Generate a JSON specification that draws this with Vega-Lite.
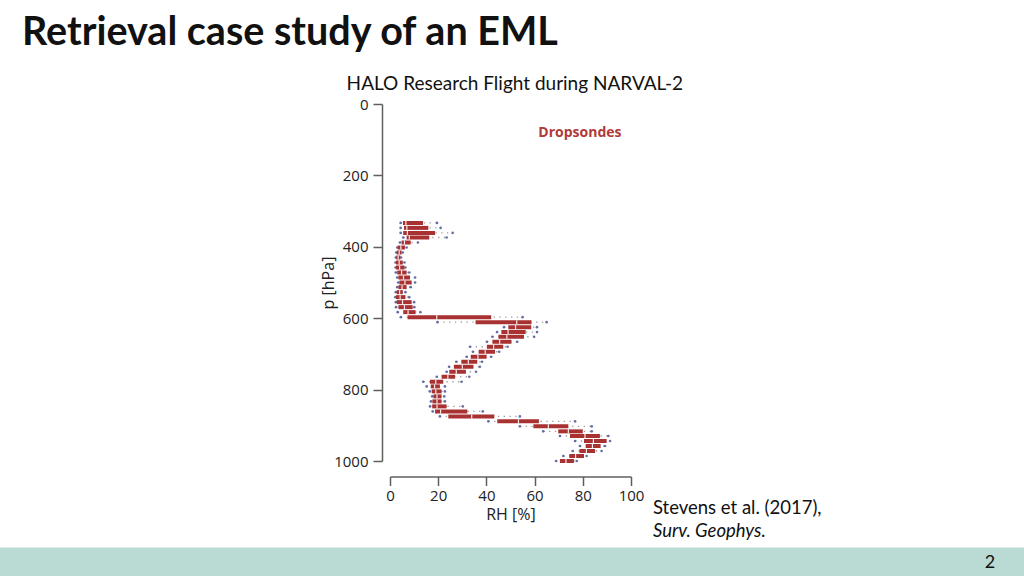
{
  "$schema": "https://vega.github.io/schema/vega-lite/v6.json",
  "autosize": {"type": "none"},
  "width": 241,
  "height": 357,
  "padding": {"left": 390, "top": 104, "right": 393, "bottom": 115},
  "background": "white",
  "config": {
    "view": {"stroke": null},
    "axis": {
      "labelFont": "Open Sans", "labelFontSize": 15, "labelColor": "#222222", "labelFlush": false,
      "titleFont": "Open Sans", "titleFontSize": 16, "titleFontWeight": "normal", "titleColor": "#222222",
      "domainColor": "#5f5f5f", "domainWidth": 1.5, "tickColor": "#5f5f5f", "tickWidth": 1.5, "tickSize": 9,
      "grid": false
    }
  },
  "datasets": {
    "sondes": [
      {"p": 333, "min": 4.4, "q1": 5.4, "med": 6.6, "q3": 13.7, "max": 19.5},
      {"p": 347, "min": 4.4, "q1": 5.8, "med": 7.0, "q3": 15.9, "max": 21.0},
      {"p": 361, "min": 4.4, "q1": 5.5, "med": 7.2, "q3": 18.7, "max": 26.0},
      {"p": 374, "min": 5.5, "q1": 6.9, "med": 8.0, "q3": 16.3, "max": 23.5},
      {"p": 388, "min": 4.1, "q1": 4.8, "med": 6.0, "q3": 8.6, "max": 11.6},
      {"p": 402, "min": 3.0, "q1": 3.2, "med": 4.5, "q3": 6.2, "max": 6.9},
      {"p": 416, "min": 2.6, "q1": 2.8, "med": 3.8, "q3": 4.8, "max": 5.3},
      {"p": 430, "min": 2.4, "q1": 2.6, "med": 3.4, "q3": 4.3, "max": 4.6},
      {"p": 444, "min": 2.3, "q1": 2.5, "med": 3.8, "q3": 5.3, "max": 6.0},
      {"p": 458, "min": 2.3, "q1": 2.5, "med": 4.0, "q3": 6.0, "max": 6.4},
      {"p": 472, "min": 2.4, "q1": 3.0, "med": 4.8, "q3": 6.9, "max": 8.0},
      {"p": 486, "min": 3.0, "q1": 3.5, "med": 5.6, "q3": 8.3, "max": 10.4},
      {"p": 500, "min": 3.4, "q1": 3.9, "med": 6.2, "q3": 9.0, "max": 10.4},
      {"p": 513, "min": 3.0, "q1": 3.5, "med": 5.0, "q3": 6.9, "max": 8.6},
      {"p": 527, "min": 2.4, "q1": 2.8, "med": 4.0, "q3": 5.3, "max": 6.4},
      {"p": 541, "min": 2.2, "q1": 2.5, "med": 4.2, "q3": 6.4, "max": 8.0},
      {"p": 555, "min": 2.4, "q1": 2.8, "med": 5.2, "q3": 9.0, "max": 10.0},
      {"p": 569, "min": 2.5, "q1": 3.5, "med": 6.0, "q3": 9.4, "max": 10.1},
      {"p": 583, "min": 3.2, "q1": 5.5, "med": 7.5, "q3": 10.6, "max": 12.6},
      {"p": 597, "min": 4.5, "q1": 7.3, "med": 19.4, "q3": 42.0, "max": 55.0},
      {"p": 611, "min": 19.7, "q1": 35.5, "med": 52.6, "q3": 58.7, "max": 65.0},
      {"p": 625, "min": 47.3, "q1": 49.1, "med": 52.1, "q3": 58.6, "max": 61.0},
      {"p": 639, "min": 44.4, "q1": 46.2, "med": 49.0, "q3": 56.3, "max": 61.0},
      {"p": 652, "min": 42.5, "q1": 45.0, "med": 48.5, "q3": 55.6, "max": 59.8},
      {"p": 666, "min": 40.2, "q1": 42.5, "med": 45.5, "q3": 50.4, "max": 52.8},
      {"p": 680, "min": 33.2, "q1": 40.2, "med": 43.0, "q3": 47.0, "max": 48.8},
      {"p": 694, "min": 34.4, "q1": 36.8, "med": 39.5, "q3": 43.6, "max": 45.3},
      {"p": 708, "min": 31.8, "q1": 33.5, "med": 36.5, "q3": 40.1, "max": 42.0},
      {"p": 722, "min": 27.5, "q1": 29.6, "med": 32.5, "q3": 36.2, "max": 38.2},
      {"p": 736, "min": 24.5, "q1": 26.5, "med": 30.0, "q3": 34.6, "max": 37.3},
      {"p": 750, "min": 23.5, "q1": 24.6, "med": 27.5, "q3": 31.5, "max": 35.7},
      {"p": 764, "min": 19.4, "q1": 21.4, "med": 24.0, "q3": 27.0, "max": 32.9},
      {"p": 778, "min": 13.8, "q1": 16.6, "med": 19.0, "q3": 22.1, "max": 29.7},
      {"p": 791, "min": 15.2, "q1": 16.9, "med": 18.5, "q3": 20.7, "max": 22.8},
      {"p": 805, "min": 16.5, "q1": 17.3, "med": 19.0, "q3": 21.4, "max": 22.8},
      {"p": 819, "min": 17.5, "q1": 18.0, "med": 19.5, "q3": 21.4, "max": 22.5},
      {"p": 833, "min": 17.0, "q1": 17.6, "med": 19.5, "q3": 21.4, "max": 22.8},
      {"p": 847, "min": 16.6, "q1": 17.5, "med": 19.5, "q3": 23.5, "max": 30.2},
      {"p": 861, "min": 17.7, "q1": 18.7, "med": 21.0, "q3": 32.1, "max": 38.5},
      {"p": 875, "min": 20.7, "q1": 24.2, "med": 33.9, "q3": 43.3, "max": 53.9},
      {"p": 889, "min": 40.8, "q1": 44.5, "med": 53.3, "q3": 61.8, "max": 76.8},
      {"p": 903, "min": 53.9, "q1": 59.5, "med": 65.7, "q3": 74.0, "max": 83.7},
      {"p": 917, "min": 63.6, "q1": 69.8, "med": 74.0, "q3": 80.0, "max": 83.7},
      {"p": 930, "min": 70.5, "q1": 74.7, "med": 80.9, "q3": 87.1, "max": 90.6},
      {"p": 944, "min": 76.8, "q1": 80.5, "med": 84.4, "q3": 89.9, "max": 91.3},
      {"p": 958, "min": 78.8, "q1": 81.2, "med": 84.0, "q3": 87.4, "max": 89.2},
      {"p": 972, "min": 75.8, "q1": 78.6, "med": 81.5, "q3": 85.1, "max": 87.8},
      {"p": 986, "min": 71.9, "q1": 74.4, "med": 77.0, "q3": 80.5, "max": 81.6},
      {"p": 1000, "min": 68.9, "q1": 70.5, "med": 73.0, "q3": 76.3, "max": 77.5}
    ]
  },
  "layer": [
    {
      "data": {"values": [{"band": "footer"}]},
      "mark": {"type": "rect", "color": "#b9dbd3"},
      "encoding": {
        "x": {"datum": -162, "type": "quantitative", "scale": {"domain": [0, 100], "nice": false, "zero": false, "padding": 0}},
        "x2": {"datum": 264},
        "y": {"datum": 1242, "type": "quantitative", "scale": {"domain": [0, 1000], "reverse": true, "nice": false, "zero": false, "padding": 0}},
        "y2": {"datum": 1325}
      }
    },
    {
      "data": {"name": "sondes"},
      "mark": {"type": "rule", "color": "#9a9a9a", "strokeWidth": 1.3, "strokeDash": [1.3, 4.5]},
      "encoding": {
        "x": {"field": "min", "type": "quantitative", "title": "RH [%]",
              "axis": {"orient": "bottom", "offset": 15.5, "values": [0, 20, 40, 60, 80, 100], "labelPadding": 3, "titlePadding": 3}},
        "x2": {"field": "max"},
        "y": {"field": "p", "type": "quantitative", "title": "p [hPa]",
              "axis": {"orient": "left", "offset": 8, "values": [0, 200, 400, 600, 800, 1000], "format": "d", "labelPadding": 5, "titlePadding": -3}}
      }
    },
    {
      "data": {"name": "sondes"},
      "mark": {"type": "circle", "color": "#55609f", "size": 7, "opacity": 0.9},
      "encoding": {
        "x": {"field": "min", "type": "quantitative"},
        "y": {"field": "p", "type": "quantitative"}
      }
    },
    {
      "data": {"name": "sondes"},
      "mark": {"type": "circle", "color": "#55609f", "size": 7, "opacity": 0.9},
      "encoding": {
        "x": {"field": "max", "type": "quantitative"},
        "y": {"field": "p", "type": "quantitative"}
      }
    },
    {
      "data": {"name": "sondes"},
      "mark": {"type": "bar", "color": "#a83131", "size": 4, "orient": "horizontal"},
      "encoding": {
        "x": {"field": "q1", "type": "quantitative"},
        "x2": {"field": "q3"},
        "y": {"field": "p", "type": "quantitative"}
      }
    },
    {
      "data": {"name": "sondes"},
      "mark": {"type": "tick", "color": "white", "orient": "vertical", "size": 4, "thickness": 1.2, "opacity": 0.9},
      "encoding": {
        "x": {"field": "med", "type": "quantitative"},
        "y": {"field": "p", "type": "quantitative"}
      }
    },
    {
      "data": {"values": [{"label": "Dropsondes"}]},
      "mark": {"type": "text", "font": "Open Sans", "fontSize": 14, "fontWeight": "bold", "color": "#b03a3a", "align": "center", "baseline": "middle"},
      "encoding": {
        "x": {"datum": 78.8, "type": "quantitative"},
        "y": {"datum": 81, "type": "quantitative"},
        "text": {"field": "label"}
      }
    },
    {
      "data": {"values": [{"label": "HALO Research Flight during NARVAL-2"}]},
      "mark": {"type": "text", "font": "Lato", "fontSize": 19, "color": "#111111", "align": "center", "baseline": "alphabetic"},
      "encoding": {
        "x": {"datum": 51.8, "type": "quantitative"},
        "y": {"datum": -38, "type": "quantitative"},
        "text": {"field": "label"}
      }
    },
    {
      "data": {"values": [{"label": "Retrieval case study of an EML"}]},
      "mark": {"type": "text", "font": "Lato", "fontSize": 39.5, "fontWeight": "bold", "color": "#111111", "align": "left", "baseline": "alphabetic"},
      "encoding": {
        "x": {"datum": -152.7, "type": "quantitative"},
        "y": {"datum": -165, "type": "quantitative"},
        "text": {"field": "label"}
      }
    },
    {
      "data": {"values": [{"label": "Stevens et al. (2017),"}]},
      "mark": {"type": "text", "font": "Lato", "fontSize": 18.5, "color": "#111111", "align": "left", "baseline": "alphabetic"},
      "encoding": {
        "x": {"datum": 109.1, "type": "quantitative"},
        "y": {"datum": 1148, "type": "quantitative"},
        "text": {"field": "label"}
      }
    },
    {
      "data": {"values": [{"label": "Surv. Geophys."}]},
      "mark": {"type": "text", "font": "Lato", "fontSize": 18.5, "fontStyle": "italic", "color": "#111111", "align": "left", "baseline": "alphabetic"},
      "encoding": {
        "x": {"datum": 109.1, "type": "quantitative"},
        "y": {"datum": 1213, "type": "quantitative"},
        "text": {"field": "label"}
      }
    },
    {
      "data": {"values": [{"label": "2"}]},
      "mark": {"type": "text", "font": "Lato", "fontSize": 18, "color": "#111111", "align": "center", "baseline": "alphabetic"},
      "encoding": {
        "x": {"datum": 249, "type": "quantitative"},
        "y": {"datum": 1300, "type": "quantitative"},
        "text": {"field": "label"}
      }
    }
  ]
}
